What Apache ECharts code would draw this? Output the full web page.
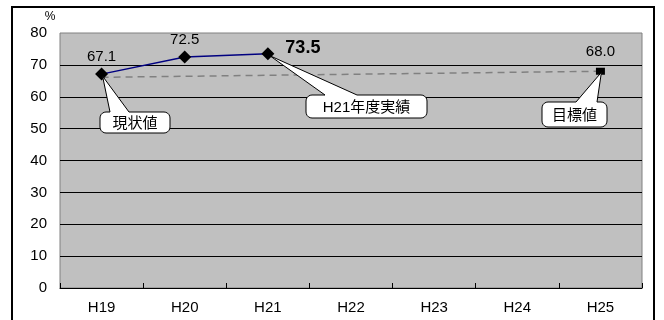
<!DOCTYPE html>
<html><head><meta charset="utf-8">
<script src="https://cdn.jsdelivr.net/npm/echarts@6/dist/echarts.min.js"></script>
<style>html,body{margin:0;padding:0;background:#fff}#c{width:664px;height:320px}</style>
</head><body><div id="c"></div>
<script>
const categories = ['H19','H20','H21','H22','H23','H24','H25'];
const actualValues = [67.1, 72.5, 73.5, null, null, null, null];
const targetValues = [66.1, null, null, null, null, null, 68.0];
const yMin = 0, yMax = 80, yStep = 10;
const unitLabel = '%';
const calloutTexts = ['現状値', 'H21年度実績', '目標値'];

const FONT = '"Liberation Sans","Noto Sans CJK JP",sans-serif';
const chart = echarts.init(document.getElementById('c'), null, {renderer:'canvas'});

const option = {
  animation: false,
  backgroundColor: '#fff',
  grid: {left: 60, right: 22, top: 33, bottom: 32, show: true, backgroundColor: '#c0c0c0', borderColor: '#808080', borderWidth: 1},
  xAxis: {
    type: 'category', data: categories, boundaryGap: true,
    axisLine: {show: true, lineStyle: {color: '#000', width: 1}},
    axisTick: {show: true, inside: true, length: 5, lineStyle: {color: '#000'}},
    axisLabel: {color: '#000', fontSize: 15, fontFamily: FONT, margin: 12}
  },
  yAxis: {
    type: 'value', min: yMin, max: yMax, interval: yStep,
    name: unitLabel, nameLocation: 'end', nameGap: 10,
    nameTextStyle: {color: '#000', fontSize: 12, fontFamily: FONT, align: 'center', padding: [0, 0, 0, -20]},
    axisLine: {show: false}, axisTick: {show: false},
    axisLabel: {color: '#000', fontSize: 15, fontFamily: FONT, margin: 13},
    splitLine: {show: true, showMinLine: false, showMaxLine: false, lineStyle: {color: '#000', width: 1}}
  },
  series: [
    {
      type: 'line', data: targetValues, connectNulls: true, z: 2,
      lineStyle: {color: '#808080', width: 1.5, type: [7, 5]},
      symbol: (v, p) => p.dataIndex === categories.length - 1 ? 'rect' : 'none',
      symbolSize: [9, 7],
      itemStyle: {color: '#000'},
      label: {show: true, position: 'top', distance: 8, color: '#000', fontSize: 15, fontFamily: FONT,
        formatter: p => p.dataIndex === categories.length - 1 ? p.value.toFixed(1) : ''}
    },
    {
      type: 'line', z: 3,
      lineStyle: {color: '#000080', width: 1.5},
      symbol: 'diamond', symbolSize: 13,
      itemStyle: {color: '#000'},
      label: {show: true, position: 'top', distance: 3, color: '#000', fontSize: 15, fontFamily: FONT,
        formatter: p => p.value.toFixed(1)},
      data: actualValues.map((v, i) => i === 2 ? {value: v, label: {fontSize: 18, fontWeight: 'bold', position: [24, -8]}} : v)
    }
  ]
};
chart.setOption(option);

function px(i, v) { return chart.convertToPixel({gridIndex: 0}, [i, v]); }
function arc(cx, cy, r, a0, a1, pts) {
  const n = 5;
  for (let k = 0; k <= n; k++) {
    const a = a0 + (a1 - a0) * k / n;
    pts.push([cx + r * Math.cos(a), cy + r * Math.sin(a)]);
  }
}
function callout(box, b1, b2, tip, text) {
  const [x1, y1, x2, y2] = box, r = 6;
  const pts = [];
  pts.push([b1, y1], tip, [b2, y1]);
  arc(x2 - r, y1 + r, r, -Math.PI / 2, 0, pts);
  arc(x2 - r, y2 - r, r, 0, Math.PI / 2, pts);
  arc(x1 + r, y2 - r, r, Math.PI / 2, Math.PI, pts);
  arc(x1 + r, y1 + r, r, Math.PI, Math.PI * 1.5, pts);
  return [
    {type: 'polygon', z: 100, shape: {points: pts}, style: {fill: '#fff', stroke: '#000', lineWidth: 1}},
    {type: 'text', z: 101, x: (x1 + x2) / 2, y: (y1 + y2) / 2 + 1,
      style: {text: text, fill: '#000', font: '15px ' + FONT, align: 'center', verticalAlign: 'middle'}}
  ];
}
const t0 = px(0, actualValues[0]);
const t1 = px(2, actualValues[2]);
const t2 = px(6, targetValues[6]);
const graphics = [
  {type: 'rect', z: 0, shape: {x: 12, y: 7, width: 642, height: 340}, style: {fill: 'none', stroke: '#000', lineWidth: 2}},
  ...callout([100, 112, 170, 133], 110, 129, [t0[0] + 1, t0[1] + 2], calloutTexts[0]),
  ...callout([306, 95, 427, 118], 325, 357, [t1[0] + 2, t1[1] + 2], calloutTexts[1]),
  ...callout([542, 102, 607, 127], 576, 597, [t2[0] + 1, t2[1] + 1], calloutTexts[2])
];
chart.setOption({graphic: graphics});
</script></body></html>
